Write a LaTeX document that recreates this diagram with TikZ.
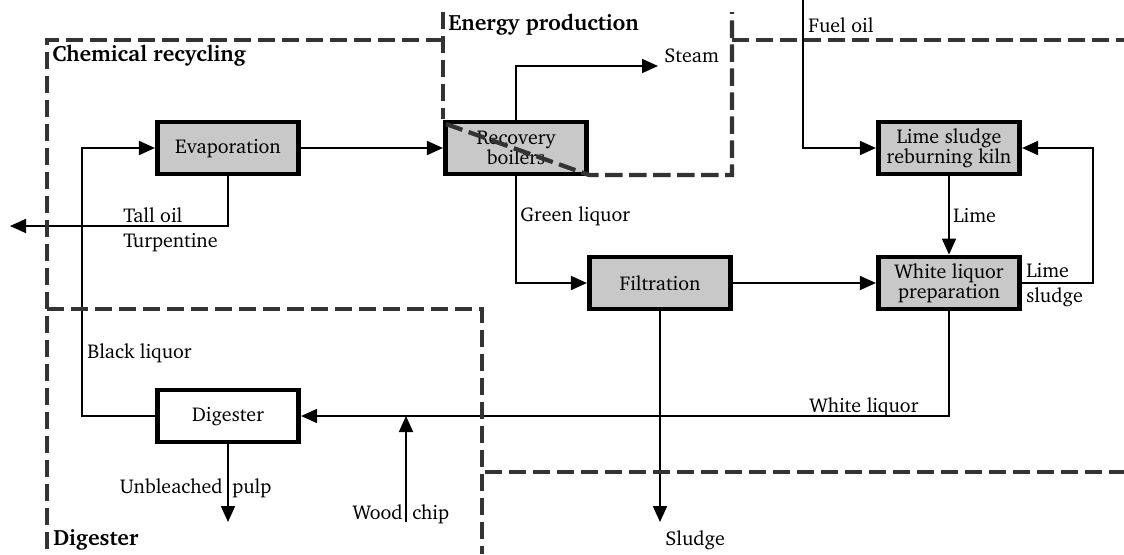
\documentclass[tikz,border=0pt]{standalone}
\usepackage[T1]{fontenc}
\usepackage{charter}
\usetikzlibrary{arrows.meta}
\definecolor{boxfill}{RGB}{200,200,200}
\definecolor{zone}{RGB}{51,51,51}
\begin{document}
\begin{tikzpicture}[x=0.75pt,y=-0.75pt,
  txt/.style={font=\fontsize{15}{15}\selectfont},
  unit/.style={txt,draw=black,line width=3.6pt,minimum width=106pt,minimum height=39pt,inner sep=0pt,align=center},
  proc/.style={unit,fill=boxfill},
  flow/.style={line width=1.3pt,-{Triangle[length=12pt,width=10.5pt]}},
  lbl/.style={txt,inner sep=0pt},
  zonelbl/.style={inner sep=0pt,font=\bfseries\fontsize{16.6}{17}\selectfont},
  zoneline/.style={draw=zone,line width=3.2pt,dash pattern=on 13pt off 5pt}]
\useasboundingbox (0,0) rectangle (1124,554);

% process units
\node[proc] (evap) at (228,148) {Evaporation};
\node[proc] (rec)  at (516,148) {Recovery\\boilers};
\node[proc] (kiln) at (949,148) {Lime sludge\\reburning kiln};
\node[proc] (wl)   at (949,283) {White liquor\\preparation};
\node[proc] (filt) at (660,283) {Filtration};
\node[unit,fill=white] (dig) at (228,416) {Digester};

% free ends of the streams
\coordinate (tallend) at (10,226);
\coordinate (blc) at (82,148);
\coordinate (steamend) at (658,66);
\coordinate (fuelstart) at (803,0);
\coordinate (lsc) at (1093,148);
\coordinate (sludgeend) at (660,522);
\coordinate (pulpend) at (228,522);
\coordinate (woodstart) at (406,522);

% streams
\draw[flow] (evap) -- (rec);
\draw[flow] (evap.south) |- (tallend);
\draw[flow] (dig.west) -| (blc) -- (evap.west);
\draw[flow] (rec.north) |- (steamend);
\draw[flow] (rec.south) |- (filt.west);
\draw[flow] (filt) -- (wl);
\draw[flow] (filt.south) -- (sludgeend);
\draw[flow] (fuelstart) |- (kiln.west);
\draw[flow] (kiln) -- (wl);
\draw[flow] (wl.east) -| (lsc) -- (kiln.east);
\draw[flow] (wl.south) |- (dig.east);
\draw[flow] (woodstart) -- (woodstart |- dig.east);
\draw[flow] (dig.south) -- (pulpend);

% stream labels
\node[lbl,anchor=base west] (ltall) at (123,222) {Tall oil};
\node[lbl,anchor=base west] (lturp) at (123,247) {Turpentine};
\node[lbl,anchor=base west] (lsteam) at (664,62) {Steam};
\node[lbl,anchor=base west] (lfuel) at (808,32) {Fuel oil};
\node[lbl,anchor=base west] (lgreen) at (520,221) {Green liquor};
\node[lbl,anchor=base west] (llime) at (953,222) {Lime};
\node[lbl,anchor=base west] (llime2) at (1026,277) {Lime};
\node[lbl,anchor=base west] (lsludge2) at (1026,302) {sludge};
\node[lbl,anchor=base west] (lblack) at (87,358) {Black liquor};
\node[lbl,anchor=base west] (lwhite) at (809,412) {White liquor};
\node[lbl,anchor=base east] (lunb) at (223,493) {Unbleached};
\node[lbl,anchor=base west] (lpulp) at (232,493) {pulp};
\node[lbl,anchor=base east] (lwood) at (403,519) {Wood};
\node[lbl,anchor=base west] (lchip) at (412,519) {chip};
\node[lbl,anchor=base west] (lsludge) at (665,545) {Sludge};

% plant areas
\draw[zoneline] (443,40) -- (47,40) -- (47,554);
\draw[zoneline] (732,40) -- (1124,40);
\draw[zoneline] (443,12) -- (443,119);
\draw[zoneline] (446,124) -- (589,175) -- (732,175) -- (732,12);
\draw[zoneline] (47,309) -- (482,309) -- (482,554);
\draw[zoneline] (485,472) -- (1124,472);

\node[zonelbl,anchor=base west] (zchem) at (52,61) {Chemical recycling};
\node[zonelbl,anchor=base west] (zenergy) at (448,30) {Energy production};
\node[zonelbl,anchor=base west] (zdig) at (53,545) {Digester};
\end{tikzpicture}
\end{document}
